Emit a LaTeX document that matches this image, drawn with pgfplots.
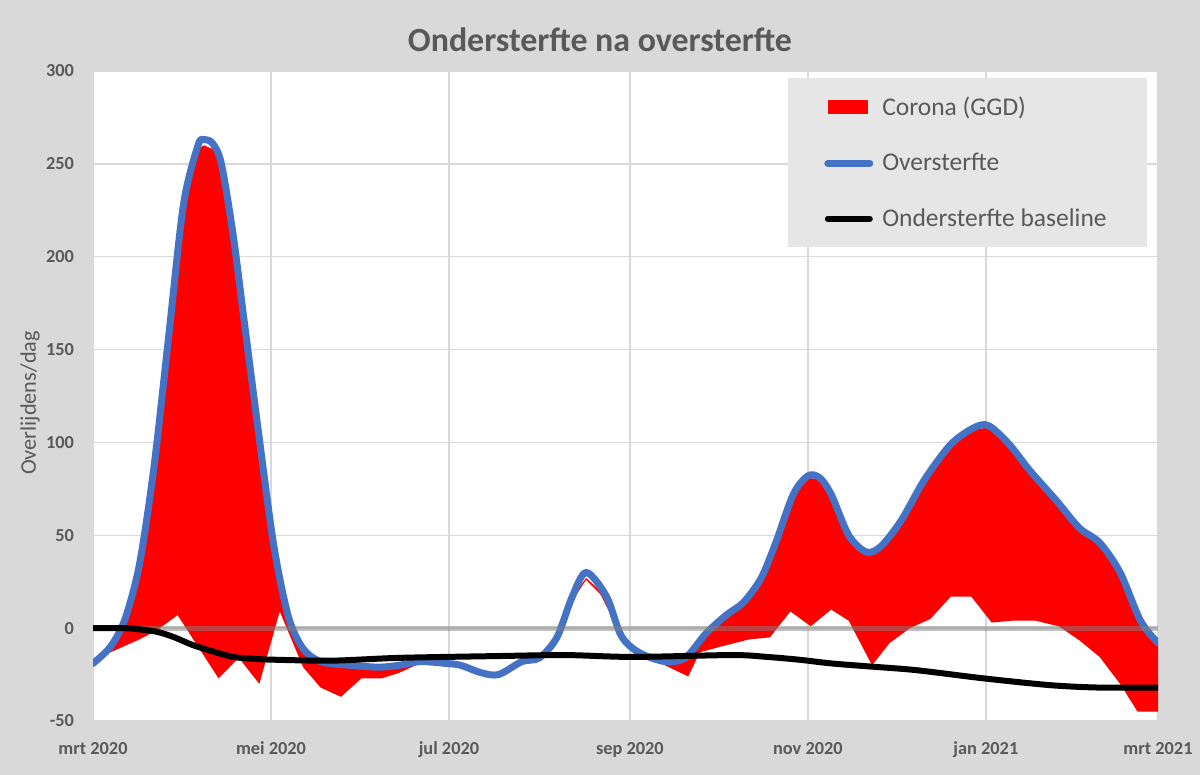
\documentclass[border=0pt]{standalone}
\usepackage{pgfplots}
\pgfplotsset{compat=1.18}
\usepackage{fontspec}
\setmainfont{Carlito}
\definecolor{bg}{HTML}{D9D9D9}
\definecolor{gridc}{HTML}{D9D9D9}
\definecolor{txt}{HTML}{595959}
\definecolor{xblue}{HTML}{4472C4}
\definecolor{leg}{HTML}{E7E6E6}
\begin{document}
\begin{tikzpicture}
\fill[bg] (0,0) rectangle (600bp,387.5bp);
\node[font=\fontsize{17}{20}\selectfont\bfseries, text=txt] at (300bp,367.5bp) {Ondersterfte na oversterfte};
\begin{axis}[
 at={(46.5bp,27bp)}, anchor=south west,
 scale only axis, width=532.5bp, height=325bp,
 xmin=0, xmax=365, ymin=-50, ymax=300,
 axis line style={draw=none},
 axis background/.style={fill=white},
 xtick={0,61,122,184,245,306,365},
 xticklabels={mrt 2020, mei 2020, jul 2020, sep 2020, nov 2020, jan 2021, mrt 2021},
 ytick={-50,0,50,100,150,200,250,300},
 grid=major, major grid style={draw=gridc, line width=0.75bp},
 tick style={draw=none},
 ticklabel style={font=\fontsize{9.2}{11}\selectfont\bfseries, text=txt},
 xticklabel style={yshift=-7bp},
 yticklabel style={xshift=-6bp},
 /pgf/number format/assume math mode=true,
 ylabel={Overlijdens/dag},
 ylabel style={font=\fontsize{11.2}{13}\selectfont, text=txt, at={(axis description cs:0,0.5)}, anchor=center, rotate=0, yshift=31.5bp, xshift=-3.5bp},
 legend cell align=left,
 legend style={at={(rel axis cs:1,1)}, anchor=north east, xshift=-5.5bp, yshift=-3.5bp,
   fill=leg, draw=none, font=\fontsize{12.8}{15}\selectfont, text=txt,
   row sep=13.5bp, inner xsep=18bp, inner ysep=7bp},
]
% Corona (GGD): band between oversterfte (upper edge, left to right) and oversterfte minus corona (lower edge, right to left)
\addplot[fill=red, draw=none, legend image code/.code={\fill[red] (0bp,-3.5bp) rectangle (20bp,3.5bp); \path (23.5bp,0bp);}] coordinates {
(0,-19) (6,-10) (11,5) (16,35) (21,88) (26,158) (31,228) (36,258) (38,260) (41,258) (44,250) (48,212) (52,163) (57,102) (62,44) (67,6) (72,-11) (78,-18) (88,-20) (98,-21) (105,-20) (112,-18) (121,-19) (126,-20) (133,-24) (139,-25) (147,-18) (153,-16) (159,-5) (164,16) (169,27) (176,17) (181,-4) (187,-13) (196,-18) (203,-16) (210,-3) (217,7) (223,14) (229,27) (234,46) (240,72) (245,81) (249,80) (253,72) (259,50) (265,41) (270,44) (277,58) (285,80) (294,99) (302,107) (307,108) (314,99) (321,85) (330,69) (338,54) (345,46) (352,30) (359,4) (365,-8)
(365,-45) (358,-45) (352,-30) (345,-15.5) (338,-6.5) (331,1) (323,4) (315,4) (308,3) (301,17) (294,17) (287,5) (280,0) (273,-8) (267,-20) (259,4) (253,10) (246,1) (239,9) (232,-5) (225,-6) (215,-10) (208,-13) (204,-26) (192,-17) (187,-13) (181,-4) (174,18) (169,26) (164,14) (159,-5) (153,-16) (147,-18) (139,-25) (133,-24) (126,-20) (121,-20) (112,-19) (105,-24) (99,-27) (92,-27) (85,-37) (78,-32) (72,-21) (64,9) (57,-30) (50,-16) (43,-27) (36,-10) (29,7) (22,-1) (16,-6) (6,-13) (0,-19)
};
\addlegendentry{Corona (GGD)}
\addplot[xblue, line width=3.5bp, smooth, line cap=round, line join=round,
  legend image code/.code={\draw[xblue, line width=3.5bp, line cap=round] (0bp,0bp) -- (21bp,0bp); \path (23.5bp,0bp);}] coordinates {
(0,-19) (6,-10) (11,5) (16,35) (21,88) (26,158) (31,228) (36,260) (38,263) (41,261) (44,250) (48,212) (52,163) (57,102) (62,44) (67,6) (72,-11) (78,-18) (88,-20) (98,-21) (105,-20) (112,-18) (121,-19) (126,-20) (133,-24) (139,-25) (147,-18) (153,-16) (159,-5) (164,16) (169,30) (176,17) (181,-4) (187,-13) (196,-18) (203,-16) (210,-3) (217,7) (223,14) (229,27) (234,46) (240,72) (245,82) (249,81) (253,72) (259,50) (265,41) (270,44) (277,58) (285,80) (294,99) (302,108) (307,109) (314,99) (321,85) (330,69) (338,54) (345,46) (352,30) (359,4) (365,-8)
};
\addlegendentry{Oversterfte}
\addplot[forget plot, gray, opacity=0.5, line width=2.5bp] coordinates {(0,0) (365,0)};
\addplot[black, line width=3bp, smooth, line cap=round,
  legend image code/.code={\draw[black, line width=3bp, line cap=round] (0bp,0bp) -- (21bp,0bp); \path (23.5bp,0bp);}] coordinates {
(0,0) (10,0) (15,-0.5) (22,-2) (28,-5) (34,-9) (41,-12.5) (48,-15.5) (55,-16.5) (62,-17) (82,-17.5) (105,-16) (140,-15) (162,-14.5) (185,-15.5) (219,-14.5) (231,-15.5) (242,-17) (253,-19) (265,-20.5) (282,-22.6) (305,-27) (328,-30.7) (345,-32) (365,-32)
};
\addlegendentry{Ondersterfte baseline}
\end{axis}
\end{tikzpicture}
\end{document}
